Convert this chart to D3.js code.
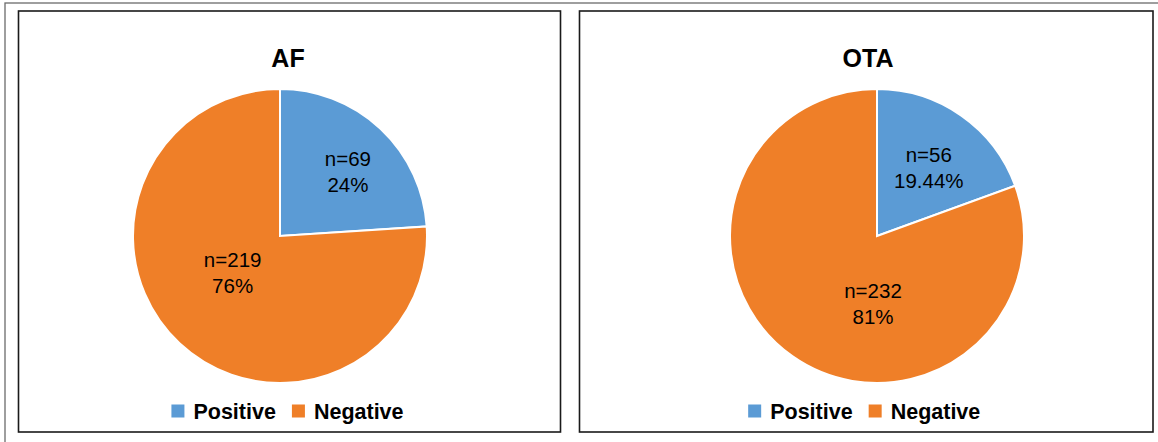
<!DOCTYPE html>
<html>
<head>
<meta charset="utf-8">
<script src="https://cdn.jsdelivr.net/npm/d3@7"></script>
<style>
  body { margin: 0; background: #fff; }
  text { font-family: "Liberation Sans", Arial, Helvetica, sans-serif; }
</style>
</head>
<body>
<script>
// data
const chartTitles = ["AF", "OTA"];
const categories = ["Positive", "Negative"];
const afValues = [69, 219];
const otaValues = [56, 232];
const afPercents = ["24%", "76%"];
const otaPercents = ["19.44%", "81%"];

const colors = ["#5B9BD5", "#EF7F28"];

const width = 1158;
const height = 442;

// panel boxes and pie placement
const panels = [
  { title: chartTitles[0], values: afValues, pct: afPercents,
    x0: 18.5, x1: 560.5, cx: 280, titleX: 288,
    labelPos: [[46.7, 0.635], [231.8, 0.41]] },
  { title: chartTitles[1], values: otaValues, pct: otaPercents,
    x0: 579.5, x1: 1153, cx: 877, titleX: 868,
    labelPos: [[37.4, 0.58], [183.4, 0.46]] }
];
const panelTop = 11, panelBottom = 432;
const cy = 236, radius = 147;

const svg = d3.select("body").append("svg")
  .attr("width", width)
  .attr("height", height);

// outer frame
svg.append("rect")
  .attr("x", 5).attr("y", 3)
  .attr("width", width + 10).attr("height", height + 10)
  .attr("fill", "none")
  .attr("stroke", "#6b6b6b")
  .attr("stroke-width", 1.3);

const pie = d3.pie().sort(null).value((d) => d);
const arc = d3.arc().innerRadius(0).outerRadius(radius);

panels.forEach((p) => {
  const g = svg.append("g");

  g.append("rect")
    .attr("x", p.x0).attr("y", panelTop)
    .attr("width", p.x1 - p.x0).attr("height", panelBottom - panelTop)
    .attr("fill", "#fff")
    .attr("stroke", "#1a1a1a")
    .attr("stroke-width", 1.6);

  g.append("text")
    .attr("x", p.titleX).attr("y", 67)
    .attr("text-anchor", "middle")
    .style("font-size", "25px")
    .style("font-weight", "bold")
    .text(p.title);

  const pieG = g.append("g").attr("transform", `translate(${p.cx},${cy})`);
  const arcs = pie(p.values);

  pieG.selectAll("path")
    .data(arcs)
    .enter()
    .append("path")
    .attr("d", arc)
    .attr("fill", (d, i) => colors[i])
    .attr("stroke", "#fff")
    .attr("stroke-width", 2);

  // data labels
  const lbl = pieG.selectAll(".lbl")
    .data(arcs)
    .enter()
    .append("text")
    .attr("class", "lbl")
    .attr("text-anchor", "middle")
    .style("font-size", "20.5px")
    .attr("transform", (d, i) => {
      const [a, f] = p.labelPos[i];
      const [x, y] = d3.pointRadial(a * Math.PI / 180, radius * f);
      return `translate(${x},${y})`;
    });
  lbl.append("tspan").attr("x", 0).attr("y", -6).text((d) => `n=${d.data}`);
  lbl.append("tspan").attr("x", 0).attr("y", 20).text((d, i) => p.pct[i]);

  // legend
  const leg = g.append("g");
  const items = leg.selectAll("g")
    .data(categories)
    .enter()
    .append("g");
  items.append("rect")
    .attr("width", 13).attr("height", 13)
    .attr("y", -6.5)
    .attr("fill", (d, i) => colors[i]);
  items.append("text")
    .attr("x", 22).attr("y", 7.5)
    .style("font-size", "21.5px")
    .style("font-weight", "bold")
    .text((d) => d);
  let off = 0;
  items.each(function () {
    d3.select(this).attr("transform", `translate(${off},0)`);
    off += this.getBBox().width + 16;
  });
  const legW = off - 16;
  leg.attr("transform", `translate(${(p.x0 + p.x1) / 2 - legW / 2 - 2},411)`);
});
</script>
</body>
</html>
